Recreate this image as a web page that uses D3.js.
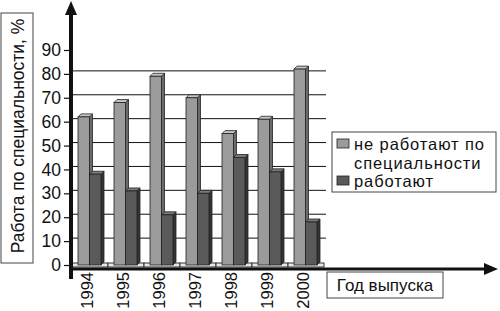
<!DOCTYPE html>
<head>
  <meta charset="utf-8">
  <script src="https://d3js.org/d3.v7.min.js"></script>
  <style>
    body { margin: 0; background: #fff; }
    text { font-family: "Liberation Sans", Arial, sans-serif; fill: #111; }
  </style>
</head>
<body>
  <div id="vis"></div>
  <script>
    var years = ["1994", "1995", "1996", "1997", "1998", "1999", "2000"];
    var seriesNames = ["не работают по специальности", "работают"];
    var notWorking = [62, 68, 79, 70, 55, 61, 82];
    var working = [38, 31, 21, 30, 45, 39, 18];
    var yTicks = [0, 10, 20, 30, 40, 50, 60, 70, 80, 90];

    var width = 500, height = 311;
    var depth = 3;

    var svg = d3.select("#vis").append("svg")
      .attr("width", width)
      .attr("height", height);

    var x0 = d3.scaleBand().domain(years).range([72, 324]).padding(0);
    var x1 = d3.scaleBand().domain(seriesNames).range([6, 29]).padding(0);
    var y = d3.scaleLinear().domain([0, 90]).range([265, 50]);

    var fills = { front: ["#9b9b9b", "#5a5a5a"], top: ["#c4c4c4", "#7a7a7a"], side: ["#6a6a6a", "#363636"] };

    // back wall gridlines (shifted by depth)
    svg.append("g").selectAll("line")
      .data(yTicks.filter(function (d) { return d > 0 && d < 90; }))
      .enter().append("line")
      .attr("x1", 72).attr("x2", 326)
      .attr("y1", function (d) { return y(d) - depth; })
      .attr("y2", function (d) { return y(d) - depth; })
      .attr("stroke", "#111").attr("stroke-width", 1);

    // floor
    svg.append("g").selectAll("rect")
      .data(years)
      .enter().append("rect")
      .attr("x", function (d) { return x0(d); })
      .attr("y", y(0) - 2)
      .attr("width", x0.bandwidth())
      .attr("height", 4)
      .attr("fill", "#e6e6e6")
      .attr("stroke", "#333").attr("stroke-width", 1);

    // bars
    var data = [];
    years.forEach(function (yr, i) {
      data.push({ year: yr, s: 0, v: notWorking[i] });
      data.push({ year: yr, s: 1, v: working[i] });
    });

    var bars = svg.append("g").selectAll("g")
      .data(data)
      .enter().append("g");

    bars.append("path")
      .attr("d", function (d) {
        var bx = x0(d.year) + x1(seriesNames[d.s]) + x1.bandwidth(), top = y(d.v), bot = y(0);
        return "M" + bx + "," + top + "L" + (bx + depth) + "," + (top - depth) +
          "L" + (bx + depth) + "," + (bot - depth) + "L" + bx + "," + bot + "Z";
      })
      .attr("fill", function (d) { return fills.side[d.s]; })
      .attr("stroke", "#222").attr("stroke-width", 0.8);

    bars.append("path")
      .attr("d", function (d) {
        var bx = x0(d.year) + x1(seriesNames[d.s]), w = x1.bandwidth(), top = y(d.v);
        return "M" + bx + "," + top + "L" + (bx + depth) + "," + (top - depth) +
          "L" + (bx + w + depth) + "," + (top - depth) + "L" + (bx + w) + "," + top + "Z";
      })
      .attr("fill", function (d) { return fills.top[d.s]; })
      .attr("stroke", "#222").attr("stroke-width", 0.8);

    bars.append("rect")
      .attr("x", function (d) { return x0(d.year) + x1(seriesNames[d.s]); })
      .attr("y", function (d) { return y(d.v); })
      .attr("width", x1.bandwidth())
      .attr("height", function (d) { return y(0) - y(d.v); })
      .attr("fill", function (d) { return fills.front[d.s]; })
      .attr("stroke", "#222").attr("stroke-width", 0.8);

    // y axis
    var yAxis = svg.append("g")
      .attr("transform", "translate(70,0)")
      .call(d3.axisLeft(y).tickValues(yTicks).tickSize(6).tickPadding(3));
    yAxis.select(".domain").remove();
    yAxis.selectAll("line").attr("stroke", "#111").attr("stroke-width", 1.2);
    yAxis.selectAll("text").attr("font-size", 17.5).attr("fill", "#111")
      .attr("font-family", "'Liberation Sans', Arial, sans-serif");

    svg.append("line")
      .attr("x1", 71).attr("x2", 71).attr("y1", 14).attr("y2", 279)
      .attr("stroke", "#111").attr("stroke-width", 4);
    svg.append("path")
      .attr("d", "M71,1L65,15L77,15Z").attr("fill", "#111");

    // x axis
    svg.append("line")
      .attr("x1", 69).attr("x2", 486).attr("y1", 269).attr("y2", 269)
      .attr("stroke", "#111").attr("stroke-width", 3);
    svg.append("path")
      .attr("d", "M498,269L484,263L484,275Z").attr("fill", "#111");

    svg.append("g").selectAll("text")
      .data(years)
      .enter().append("text")
      .attr("transform", function (d) {
        return "translate(" + (x0(d) + 20.5) + ",272) rotate(-90)";
      })
      .attr("text-anchor", "end")
      .attr("font-size", 16.5)
      .text(function (d) { return d; });

    // y axis title in a box
    svg.append("rect")
      .attr("x", 1).attr("y", 13).attr("width", 32).attr("height", 250)
      .attr("fill", "#fff").attr("stroke", "#444").attr("stroke-width", 1);
    svg.append("text")
      .attr("transform", "translate(24,136) rotate(-90)")
      .attr("text-anchor", "middle")
      .attr("font-size", 17.5)
      .text("Работа по специальности, %");

    // x axis title in a box
    svg.append("rect")
      .attr("x", 327).attr("y", 272).attr("width", 116).attr("height", 26)
      .attr("fill", "#fff").attr("stroke", "#444").attr("stroke-width", 1);
    svg.append("text")
      .attr("x", 385).attr("y", 291)
      .attr("text-anchor", "middle")
      .attr("font-size", 17)
      .text("Год выпуска");

    // legend
    var legend = svg.append("g").attr("transform", "translate(332,132)");
    legend.append("rect")
      .attr("width", 164).attr("height", 60)
      .attr("fill", "#fff").attr("stroke", "#444").attr("stroke-width", 1);
    var legendLines = [["не работают по", "специальности"], ["работают"]];
    var legendY = [18, 55];
    seriesNames.forEach(function (name, i) {
      legend.append("rect")
        .attr("x", 5).attr("y", legendY[i] - 11)
        .attr("width", 12).attr("height", 9)
        .attr("fill", fills.front[i]).attr("stroke", "#222").attr("stroke-width", 0.8);
      legendLines[i].forEach(function (ln, j) {
        legend.append("text")
          .attr("x", 22).attr("y", legendY[i] + j * 19)
          .attr("font-size", 16.5)
          .attr("letter-spacing", 0.9)
          .text(ln);
      });
    });
  </script>
</body>
